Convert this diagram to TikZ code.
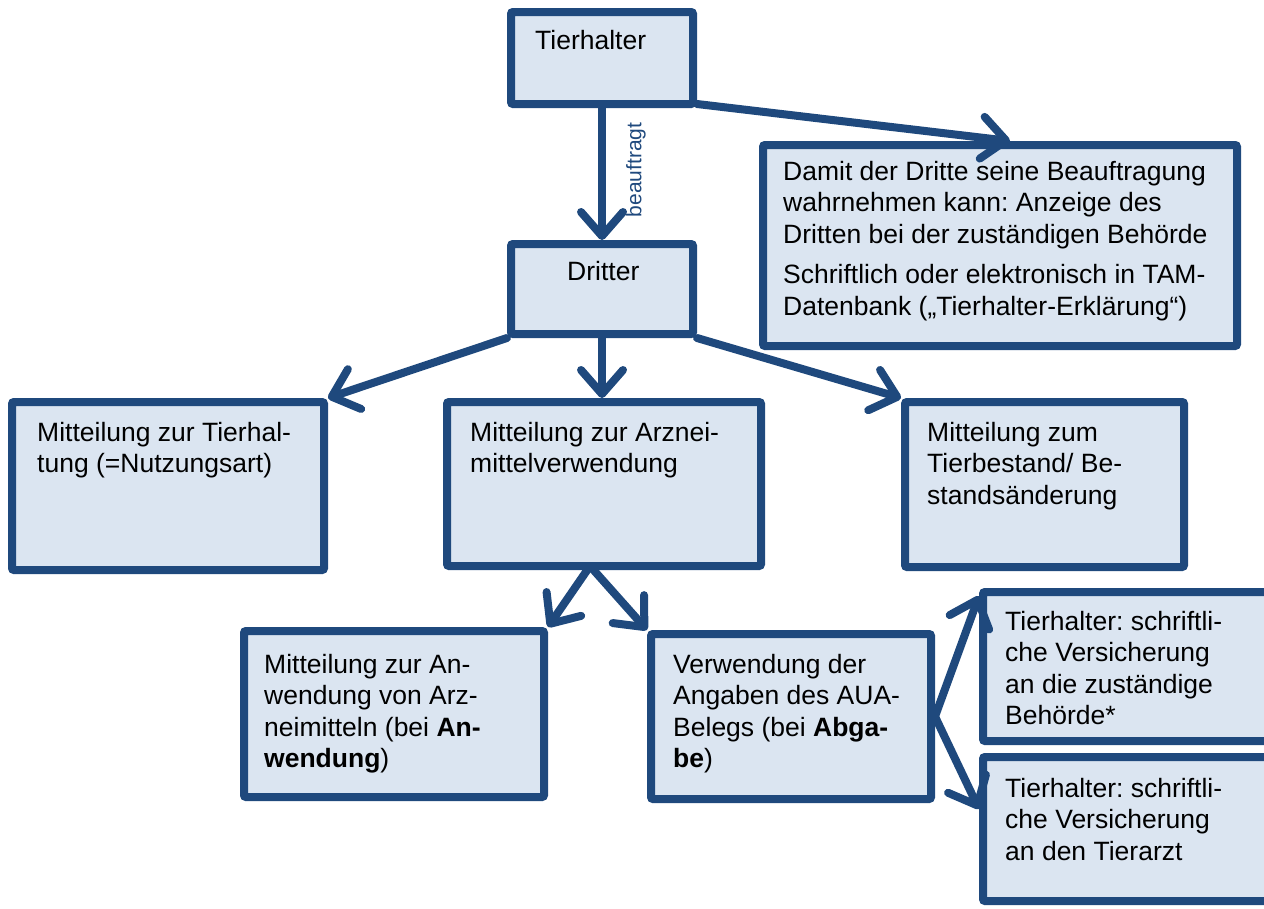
\documentclass[tikz,border=0pt]{standalone}
\usepackage{fontspec}
\setmainfont{Liberation Sans}
\usetikzlibrary{arrows.meta,calc}
\definecolor{myblue}{HTML}{1F497D}
\definecolor{myfill}{HTML}{DBE5F1}
\frenchspacing
\tikzset{
  box/.style={draw=myblue, fill=myfill, line width=8pt, rounded corners=2pt, rectangle, inner sep=0pt},
  txt/.style={anchor=base west, inner sep=0pt, align=left, font=\fontsize{26.5}{31.5}\selectfont},
  arr/.style={draw=myblue, line width=8pt, line cap=round, line join=round,
    -{Straight Barb[length=24pt, width=42pt, line cap=round, line join=round]}}
}
\newcommand{\ml}[1]{\begin{tabular}[t]{@{}l@{}}#1\end{tabular}}
\begin{document}
\begin{tikzpicture}[x=1pt,y=-1pt]
\useasboundingbox (0,0) rectangle (1264,908);
% boxes
\node[box, minimum width=182pt, minimum height=92pt] (tierhalter) at (602,58) {};
\node[box, minimum width=182pt, minimum height=90pt] (dritter) at (602,289) {};
\node[box, minimum width=474pt, minimum height=201pt] (damit) at (1000,245.5) {};
\node[box, minimum width=312pt, minimum height=168pt] (haltung) at (168,486) {};
\node[box, minimum width=314pt, minimum height=164pt] (arznei) at (604,484) {};
\node[box, minimum width=279pt, minimum height=165pt] (bestand) at (1044.5,484.5) {};
\node[box, minimum width=300pt, minimum height=166pt] (anwendung) at (394,714) {};
\node[box, minimum width=280pt, minimum height=165pt] (verwendung) at (791,716.5) {};
\node[box, minimum width=285pt, minimum height=149pt] (behoerde) at (1125.5,666.5) {};
\node[box, minimum width=285pt, minimum height=144pt] (tierarzt) at (1125.5,829) {};
% texts
\node[txt] (t1) at (535,49) {Tierhalter};
\node[txt] (t2) at (567,280) {Dritter};
\node[txt] (t3) at (783,180) {\ml{Damit der Dritte seine Beauftragung\\ wahrnehmen kann: Anzeige des\\ Dritten bei der zuständigen Behörde\\[9pt] Schriftlich oder elektronisch in TAM-\\ Datenbank („Tierhalter-Erklärung“)}};
\node[txt] (t4) at (37,441) {\ml{Mitteilung zur Tierhal-\\ tung (=Nutzungsart)}};
\node[txt] (t5) at (470,441) {\ml{Mitteilung zur Arznei-\\ mittelverwendung}};
\node[txt] (t6) at (927,441) {\ml{Mitteilung zum\\ Tierbestand/ Be-\\ standsänderung}};
\node[txt] (t7) at (264,673) {\ml{Mitteilung zur An-\\ wendung von Arz-\\ neimitteln (bei \textbf{An-}\\ \textbf{wendung})}};
\node[txt] (t8) at (673,673) {\ml{Verwendung der\\ Angaben des AUA-\\ Belegs (bei \textbf{Abga-}\\ \textbf{be})}};
\node[txt] (t9) at (1005,630) {\ml{Tierhalter: schriftli-\\ che Versicherung\\ an die zuständige\\ Behörde*}};
\node[txt] (t10) at (1005,797) {\ml{Tierhalter: schriftli-\\ che Versicherung\\ an den Tierarzt}};
% connectors
\draw[arr] (tierhalter.south) -- (dritter.north);
\node[rotate=90, text=myblue, font=\fontsize{21}{24}\selectfont, inner sep=0pt] (lbl) at (636,170) {beauftragt};
\draw[arr] ($(tierhalter.south east)+(0,-4)$) -- ($(damit.north)+(10,0)$);
\draw[arr] (dritter.south west) -- (haltung.north east);
\draw[arr] (dritter.south) -- (dritter.south |- arznei.north);
\draw[arr] (dritter.south east) -- (bestand.north west);
\coordinate (apex) at ($(arznei.south)+(-14,-4)$);
\draw[arr] (apex) -- (anwendung.north east);
\draw[arr] (apex) -- (verwendung.north west);
\draw[arr] (verwendung.east) -- ($(behoerde.north west)+(0,8)$);
\draw[arr] (verwendung.east) -- ($(tierarzt.north west)+(0,56)$);
\end{tikzpicture}
\end{document}
